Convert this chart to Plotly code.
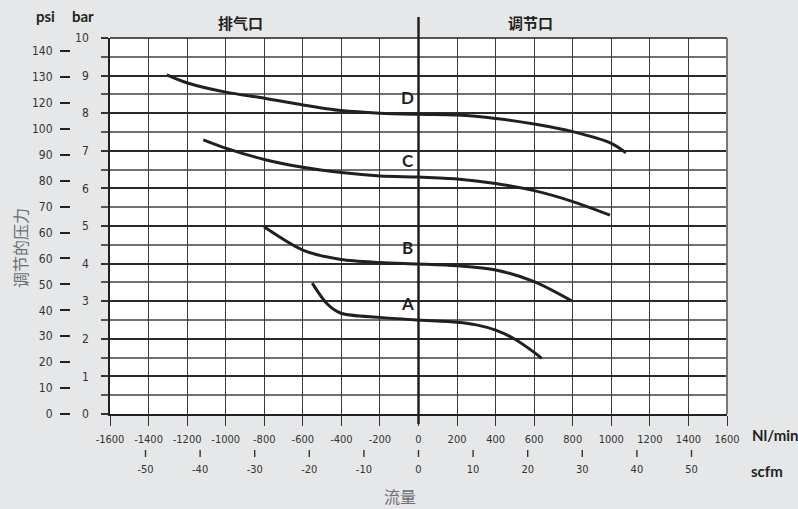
import plotly.graph_objects as go

# Flow (Nl/min) and regulated pressure (bar) for the four spring ranges
flow_a = [-551, -476, -402, -200, 0, 200, 300, 400, 500, 600, 639]
pres_a = [3.48, 2.94, 2.68, 2.57, 2.50, 2.44, 2.37, 2.23, 1.99, 1.64, 1.48]

flow_b = [-801, -600, -402, -200, 0, 200, 400, 600, 794]
pres_b = [4.98, 4.36, 4.11, 4.03, 3.99, 3.94, 3.83, 3.52, 3.01]

flow_c = [-1116, -1000, -800, -600, -400, -200, 0, 200, 400, 600, 800, 993]
pres_c = [7.29, 7.07, 6.77, 6.56, 6.42, 6.33, 6.30, 6.25, 6.13, 5.94, 5.65, 5.29]

flow_d = [-1306, -1202, -1000, -800, -600, -400, -200, 0, 200, 400, 600, 800, 1000, 1076]
pres_d = [9.02, 8.81, 8.56, 8.40, 8.22, 8.07, 8.00, 7.97, 7.95, 7.86, 7.71, 7.51, 7.20, 6.95]

curve_names = ["A", "B", "C", "D"]

# Axis ticks
flow_ticks = list(range(-1600, 1601, 200))
bar_ticks = list(range(0, 11))
scfm_ticks = [-50, -40, -30, -20, -10, 0, 10, 20, 30, 40, 50]
psi_ticks = [0, 10, 20, 30, 40, 50, 60, 70, 80, 90, 100, 110, 120, 130, 140]
psi_labels = ["0", "10", "20", "30", "40", "50", "60", "60", "70", "80",
              "90", "100", "120", "130", "140"]

NL_PER_SCFM = 28.3168
BAR_PER_PSI = 0.0689476

W, H = 798, 509
M_L, M_R, M_T, M_B = 0, 71, 38, 20
PW, PH = W - M_L - M_R, H - M_T - M_B
PLOT_BOTTOM = 414


def px_x(p):
    return (p - M_L) / PW


def px_y(p):
    return (H - M_B - p) / PH


BG = "#e6e7e8"
INK = "#231f20"
NUM_FONT = "Liberation Sans Narrow, DejaVu Sans Condensed, Arial Narrow, sans-serif"
BOLD_FONT = "Lato, Open Sans, sans-serif"
CJK_FONT = "Noto Sans CJK SC"

fig = go.Figure()

for name, fx, py in zip(curve_names,
                        [flow_a, flow_b, flow_c, flow_d],
                        [pres_a, pres_b, pres_c, pres_d]):
    fig.add_trace(go.Scatter(
        x=fx, y=py, mode="lines", name=name,
        line=dict(color=INK, width=3, shape="spline", smoothing=0.8),
        showlegend=False, hoverinfo="skip"))

# carrier trace for the secondary (scfm / psi) axes
fig.add_trace(go.Scatter(x=[None], y=[None], xaxis="x2", yaxis="y2",
                         showlegend=False, hoverinfo="skip"))

scfm_in_nl = [s * NL_PER_SCFM for s in scfm_ticks]
x_dom = [px_x(110), 1]
y_dom = [px_y(PLOT_BOTTOM), 1]

fig.update_layout(
    width=W, height=H,
    margin=dict(l=M_L, r=M_R, t=M_T, b=M_B, autoexpand=False),
    paper_bgcolor=BG, plot_bgcolor="white",
    xaxis=dict(
        domain=x_dom, range=[-1600, 1600], anchor="y", automargin=False,
        tickmode="array", tickvals=flow_ticks,
        ticktext=[str(v) for v in flow_ticks],
        ticks="outside", ticklen=10, tickwidth=1.4, tickcolor="#333",
        showgrid=True, gridcolor="#3a3a3a", gridwidth=1.3,
        showline=True, linecolor=INK, linewidth=1.6,
        zeroline=False, ticklabelstandoff=4,
        tickfont=dict(family=NUM_FONT, size=11, color="#333"),
    ),
    yaxis=dict(
        domain=y_dom, range=[0, 10], anchor="x", automargin=False,
        tickmode="array", tickvals=bar_ticks,
        ticks="outside", ticklen=7, tickwidth=1.5, tickcolor="#333",
        showgrid=True, gridcolor="#2a2a2a", gridwidth=1.5,
        minor=dict(dtick=0.5, ticks="outside", ticklen=7, tickwidth=1.5,
                   tickcolor="#555",
                   showgrid=True, gridcolor="#707070", gridwidth=1.5),
        showline=True, linecolor=INK, linewidth=1.6,
        zeroline=False, ticklabelstandoff=10,
        tickfont=dict(family=NUM_FONT, size=12, color="#333"),
    ),
    xaxis2=dict(
        domain=x_dom, range=[-1600, 1600], overlaying="x", anchor="free",
        position=px_y(450), side="bottom", automargin=False,
        tickmode="array", tickvals=scfm_in_nl,
        ticktext=[str(s) for s in scfm_ticks],
        ticks="", showgrid=False, showline=False,
        zeroline=False, ticklabelstandoff=11,
        tickfont=dict(family=NUM_FONT, size=11, color="#333"),
    ),
    yaxis2=dict(
        domain=y_dom, range=[0, 10], overlaying="y", anchor="free",
        position=px_x(70), side="left", automargin=False,
        tickmode="array", tickvals=[p * BAR_PER_PSI for p in psi_ticks],
        ticktext=psi_labels,
        ticks="outside", ticklen=10, tickwidth=1.6, tickcolor="#222",
        showgrid=False, showline=False, zeroline=False,
        ticklabelstandoff=5,
        tickfont=dict(family=NUM_FONT, size=12, color="#333"),
    ),
)

# short vertical marks of the scfm scale, between the two label rows
for v in scfm_in_nl:
    fig.add_shape(type="line", xref="x", yref="paper",
                  x0=v, x1=v, y0=px_y(457), y1=px_y(450),
                  line=dict(color="#333", width=1.4))

# plot frame: dark top edge, grey right edge
fig.add_shape(type="line", xref="paper", yref="paper",
              x0=x_dom[0], x1=1, y0=1, y1=1,
              line=dict(color=INK, width=1.6))
fig.add_shape(type="line", xref="paper", yref="paper",
              x0=1, x1=1, y0=y_dom[0], y1=1,
              line=dict(color="#777", width=2))

# divider between exhaust and regulated sides
fig.add_shape(type="line", xref="x", yref="paper",
              x0=0, x1=0, y0=px_y(424), y1=px_y(17),
              line=dict(color=INK, width=2.5))

bold = dict(family=BOLD_FONT, size=15, color=INK)
cjk_bold = dict(family=CJK_FONT, size=15, color=INK)

annotations = [
    dict(text="<b>psi</b>", x=px_x(45), y=px_y(16), font=bold),
    dict(text="<b>bar</b>", x=px_x(83), y=px_y(16), font=bold),
    dict(text="<b>Nl/min</b>", x=px_x(775), y=px_y(435), font=bold),
    dict(text="<b>scfm</b>", x=px_x(767), y=px_y(471), font=bold),
    dict(text="<b>排气口</b>", x=px_x(240), y=px_y(22), font=cjk_bold),
    dict(text="<b>调节口</b>", x=px_x(530), y=px_y(22), font=cjk_bold),
    dict(text="流量", x=px_x(400), y=px_y(496),
         font=dict(family=CJK_FONT, size=16, color="#6d6e71")),
    dict(text="调节的压力", x=px_x(20), y=px_y(248), textangle=-90,
         font=dict(family=CJK_FONT, size=16, color="#6d6e71")),
]
for a in annotations:
    a.update(xref="paper", yref="paper", showarrow=False,
             xanchor="center", yanchor="middle")
    fig.add_annotation(**a)

# curve letters, just above each curve at the divider
for name, fx, py in zip(curve_names,
                        [flow_a, flow_b, flow_c, flow_d],
                        [pres_a, pres_b, pres_c, pres_d]):
    y0 = py[fx.index(0)]
    fig.add_annotation(text=f"<b>{name}</b>", x=-55, y=y0, xref="x", yref="y",
                       showarrow=False, xanchor="center", yanchor="bottom",
                       yshift=4, font=dict(family=BOLD_FONT, size=17, color=INK))

fig.write_html("out.html")
